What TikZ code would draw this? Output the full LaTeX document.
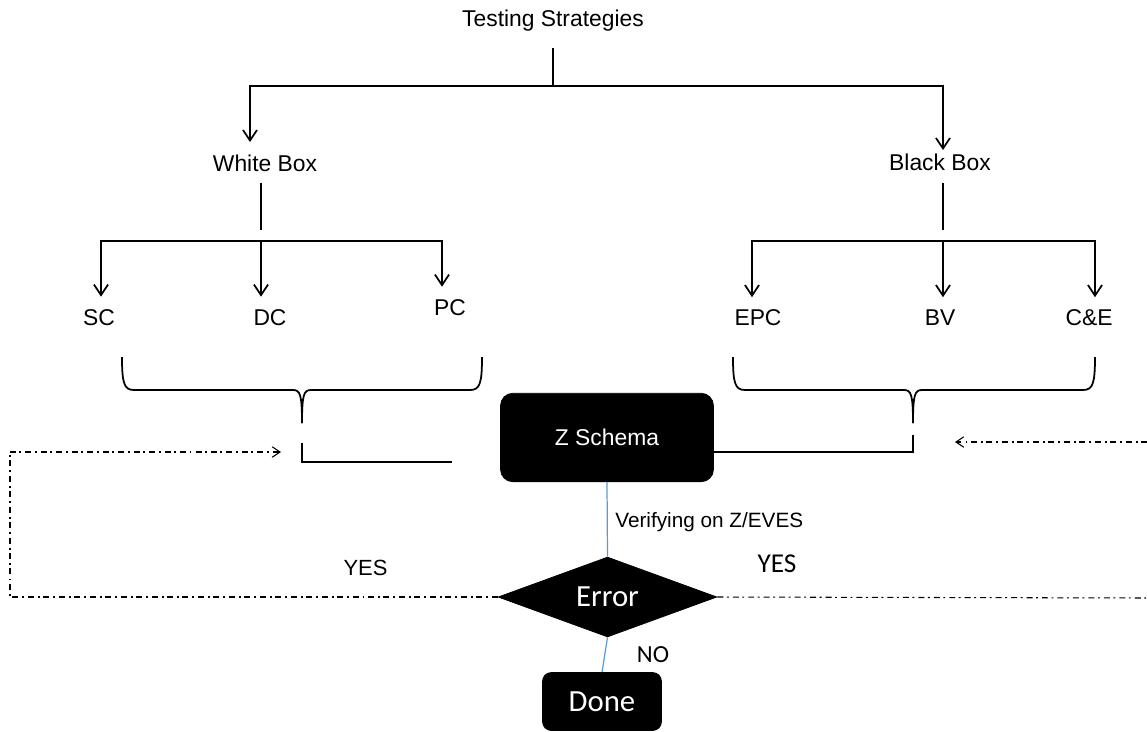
\documentclass[tikz,border=0pt]{standalone}
\usepackage{fontspec}
\setmainfont{Liberation Sans}
\newfontfamily\calib{Carlito}
\usetikzlibrary{positioning,arrows.meta,shapes.geometric,calc}
\definecolor{LinkBlue}{HTML}{5B9BD5}

\begin{document}
\begin{tikzpicture}[x=0.02cm,y=-0.02cm,
    lbl/.style={font=\fontsize{13}{15}\selectfont,inner sep=0pt,text height=9.5pt,text depth=2.5pt},
    conn/.style={line width=1pt},
    arr/.style={conn,-{Straight Barb[length=6pt,width=8pt]},shorten >=6.5pt},
    dashdot/.style={line width=#1,dash pattern=on 3.4pt off 2pt on 1.1pt off 2.3pt},
    dashdot/.default=1pt,
    backtip/.style={-{Straight Barb[length=4.5pt,width=6pt]}},
    blk/.style={fill=black,draw=black,text=white,inner sep=0pt},
    blueln/.style={LinkBlue,line width=0.7pt}]
  \useasboundingbox (0,0) rectangle (1147,731);
  % tree
  \node[lbl] (ts) at (553,20.5) {Testing Strategies};
  \node[lbl] (wb) at (265,165) {White Box};
  \node[lbl] (bb) at (940,164) {Black Box};
  \node[lbl] (sc) at (99,319) {SC};
  \node[lbl] (dc) at (270,319) {DC};
  \node[lbl] (pc) at (450,309) {PC};
  \node[lbl] (epc) at (758,319.5) {EPC};
  \node[lbl] (bv) at (940,319.5) {BV};
  \node[lbl] (ce) at (1089,319.5) {C\&E};
  \coordinate (tsj) at (553,86);
  \coordinate (wbj) at (261,241);
  \coordinate (bbj) at (943,241);
  \draw[conn,shorten <=9.5pt] (ts.south) -- (tsj);
  \draw[arr,shorten >=0pt] (tsj) -| ($(wb.north)+(-15,-12)$);
  \draw[arr,shorten >=0pt] (tsj) -| ($(bb.north)+(3,-3)$);
  \draw[conn,shorten <=4pt,shorten >=6pt] (wb.south -| wbj) -- (wbj);
  \draw[conn,shorten <=4.5pt,shorten >=6pt] (bb.south -| bbj) -- (bbj);
  \foreach \n/\dx in {sc/2,dc/-9,pc/-8} \draw[arr] (wbj) -| ($(\n.north)+(\dx,0)$);
  \foreach \n/\dx in {epc/-6,bv/3,ce/6} \draw[arr] (bbj) -| ($(\n.north)+(\dx,0)$);
  \foreach \l/\m/\r in {122/302/482,733/913/1095}{
    \draw[conn] (\l,357) .. controls (\l,383) and (\l+2,390) .. (\l+12,390) -- (\m-9,390) .. controls (\m-2,390) and (\m,394) .. (\m,423);
    \draw[conn] (\r,357) .. controls (\r,383) and (\r-2,390) .. (\r-12,390) -- (\m+9,390) .. controls (\m+2,390) and (\m,394) .. (\m,423);
  }
  % flow
  \node[blk,minimum width=4.26cm,minimum height=1.77cm,rounded corners=7pt,font=\fontsize{13}{15}\selectfont] (zs) at (607,437.5) {Z Schema};
  \node[blk,diamond,aspect=2.7,minimum width=4.38cm,minimum height=1.6cm,font=\calib\fontsize{17.5}{20}\selectfont] (err) at (607.5,597) {Error};
  \node[blk,minimum width=2.38cm,minimum height=1.16cm,rounded corners=5pt,font=\calib\fontsize{17.5}{20}\selectfont] (done) at (602,701.5) {Done};
  \coordinate (lb) at (302,443);
  \coordinate (lbe) at (452,462);
  \coordinate (rb) at (913,435);
  \draw[conn] (lb) |- (lbe);
  \draw[conn] (rb) |- ($(zs.east)+(0,14.5)$);
  \draw[blueln] (zs.south) -- (err.north);
  \draw[blueln] (err.south) -- (done.north);
  \node[lbl,anchor=west,font=\fontsize{11.8}{14}\selectfont] (ver) at (615,521.5) {Verifying on Z/EVES};
  \node[anchor=base,inner sep=0pt,font=\fontsize{12.5}{15}\selectfont] (yesl) at (365.5,575.5) {YES};
  \node[anchor=base,inner sep=0pt,font=\calib\fontsize{15.5}{18}\selectfont] (yesr) at (777,572.7) {YES};
  \node[anchor=base,inner sep=0pt,font=\calib\fontsize{14}{17}\selectfont] (no) at (653,662.7) {NO};
  % error loops
  \coordinate (lc) at (10,452);
  \coordinate (lret) at (281,452);
  \coordinate (rout) at (1147,598);
  \coordinate (rin) at (1147,442);
  \coordinate (rret) at (955,442);
  \draw[dashdot=1.1pt] (err.west) -| (lc);
  \draw[dashdot=0.6pt,backtip] (lc) -- (lret);
  \draw[dashdot=0.6pt] (err.east) -- (rout);
  \draw[dashdot=0.6pt,backtip] (rin) -- (rret);
\end{tikzpicture}
\end{document}
